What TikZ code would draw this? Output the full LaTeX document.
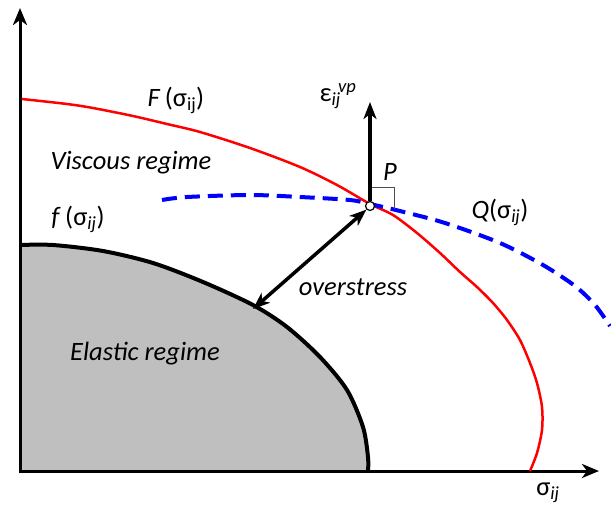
\documentclass[tikz,border=0pt]{standalone}
\usepackage{fontspec}
\setmainfont{Carlito}
\usetikzlibrary{arrows.meta}
\newcommand\lowsub[1]{\textsubscript{#1}}
\begin{document}
\begin{tikzpicture}[x=1pt,y=-1pt,
  lbl/.style={inner sep=0pt, font=\fontsize{26.5}{30}\selectfont},
  ilbl/.style={lbl, font=\fontsize{26.5}{30}\selectfont\itshape},
  axis/.style={line width=3pt, -{Stealth[length=17pt,width=14pt,inset=5pt]}},
  bigarrow/.style={line width=3.5pt, -{Stealth[length=17pt,width=13pt,inset=5pt]}},
  redcurve/.style={red, line width=2.5pt},
  bluecurve/.style={blue, line width=4pt, dash pattern=on 15pt off 8pt},
  elastic/.style={black, line width=4pt},
]
\useasboundingbox (0,0) rectangle (611,507);
% elastic region
\def\elasticpts{(20,245) (53,245) (103,251) (153,263) (203,282) (253,305) (287,327) (320,357) (347,390) (363,427) (368,457) (368,471)}
\fill[black!25] (20,471) -- plot[smooth, tension=0.5] coordinates {\elasticpts} -- cycle;
\draw[elastic] plot[smooth, tension=0.5] coordinates {\elasticpts};
% axes
\coordinate (ytip) at (20,8);
\coordinate (xtip) at (599,471);
\draw[axis] (20,473) -- (ytip);
\draw[axis] (18.5,471) -- (xtip);
% F curve
\draw[redcurve] plot[smooth, tension=0.5] coordinates {(22,99) (67,104) (93,108) (133,116) (167,124) (200,132) (250,148) (300,167) (337,185) (370,204) (393,215) (417,233) (440,253) (460,272) (477,287) (493,303) (507,320) (520,340) (530,363) (537,383) (542,407) (542,430) (537,453) (530,471)};
% Q curve
\draw[bluecurve] plot[smooth, tension=0.5] coordinates {(162,200) (187,197) (250,195) (300,197) (350,200) (370,204) (400,211) (445,223) (500,243) (543,265) (575,286) (595,305) (610,326)};
% P point and arrows
\node[circle, draw=black, fill=white, line width=1.2pt, inner sep=0pt, minimum size=9pt] (P) at (370,206) {};
\coordinate (etip) at (370,102);
\coordinate (ostip) at (253,309);
\draw[bigarrow] (P.north) -- (etip);
\draw[bigarrow, {Stealth[length=17pt,width=13pt,inset=5pt]}-{Stealth[length=17pt,width=13pt,inset=5pt]}] (ostip) -- (P.south west);
% right angle mark
\draw[black!70, line width=0.8pt] (372,187) -- (394,187) -- (394,209);
% labels
\node[lbl] (Flbl) at (176,100) {\textit{F}\,(σ\lowsub{ij})};
\node[ilbl] (visc) at (131,163) {Viscous regime};
\node[lbl] (flbl) at (78,219) {\textit{f}\,(σ\lowsub{\textit{ij}})};
\node[lbl] (Qlbl) at (500,212) {\textit{Q}(σ\lowsub{\textit{ij}})};
\node[ilbl] (over) at (353,287) {overstress};
\node[ilbl] (elas) at (145,354) {Elastic regime};
\node[lbl] (sig) at (548,493) {σ\lowsub{\textit{ij}}};
\node[lbl] (eps) at (338,96) {ε\lowsub{\textit{ij}}\textsuperscript{\kern-0.15em\textit{vp}}};
\node[ilbl] (Plbl) at (390,172) {P};
\end{tikzpicture}
\end{document}
